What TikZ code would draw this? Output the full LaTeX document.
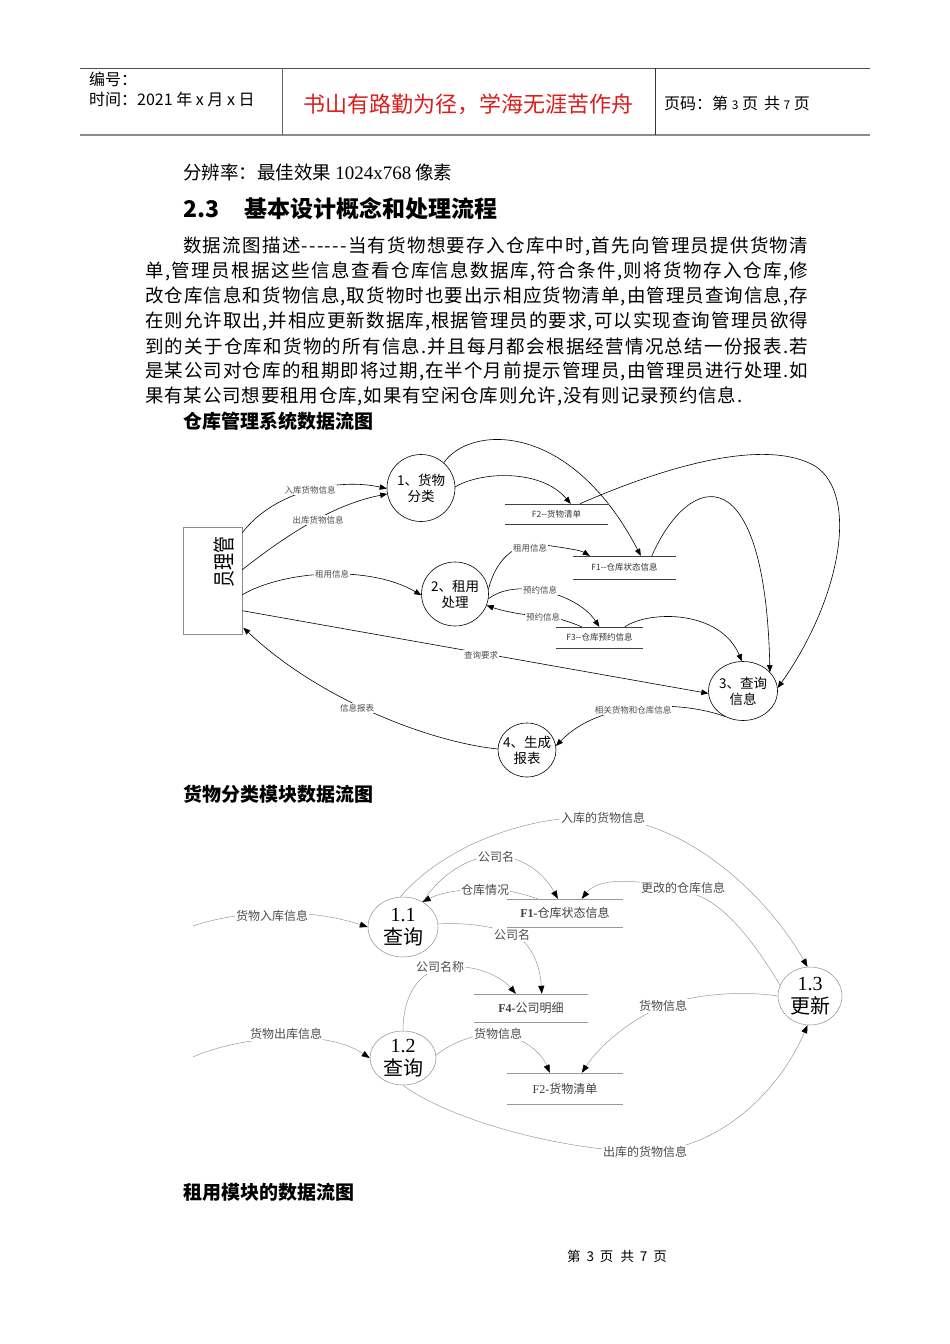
\documentclass[tikz,border=0pt]{standalone}
\usepackage{fontspec}
\usetikzlibrary{arrows.meta,calc,shapes.geometric}
\newfontfamily\cjk{Noto Sans CJK SC}
\newfontfamily\lserif{Liberation Serif}
\definecolor{motto}{RGB}{222,28,28}
\makeatletter
\def\spreadchars#1{\sp@readA#1\@nil}
\def\sp@readA#1{\ifx#1\@nil\else #1\expandafter\sp@readB\fi}
\def\sp@readB#1{\ifx#1\@nil\else\hskip 0pt plus 1fil #1\expandafter\sp@readB\fi}
\makeatother
\newcommand\pline[2]{\hbox to #1{\spreadchars{#2}}}
\tikzset{
  every node/.style={font=\cjk, inner sep=0pt},
  hdtext/.style={anchor=west, font=\cjk\fontsize{16}{18}\selectfont},
  bodytext/.style={anchor=west, font=\cjk\fontsize{18.5}{20}\selectfont},
  headline/.style={anchor=west, font=\cjk\bfseries\fontsize{19}{21}\selectfont},
  proc/.style={ellipse, draw=black, line width=0.6pt, align=center, inner sep=-14pt,
    font=\cjk\fontsize{13.5}{16}\selectfont},
  fl/.style={draw=black, line width=0.6pt, -{Triangle[length=7pt,width=5.5pt]}},
  flbl/.style={font=\cjk\fontsize{8.5}{10}\selectfont, text=black!70, fill=white, inner sep=1pt},
  storelbl/.style={font=\cjk\fontsize{8.5}{10}\selectfont, text=black!80},
  storeline/.style={draw=black!75, line width=0.6pt},
  proctwo/.style={ellipse, draw=black!45, line width=0.5pt, align=center, inner sep=-16pt,
    font=\cjk\fontsize{20}{23}\selectfont},
  fltwo/.style={draw=black!40, line width=0.5pt, -{Triangle[length=8pt,width=6pt,color=black]}},
  flbltwo/.style={font=\cjk\fontsize{12}{14}\selectfont, text=black!70, fill=white, inner sep=1pt},
  storelbltwo/.style={font=\cjk\fontsize{12}{14}\selectfont, text=black!75},
  storelinetwo/.style={draw=black!40, line width=0.5pt},
}
\begin{document}
\begin{tikzpicture}[x=1pt,y=-1pt]
\useasboundingbox[fill=white] (0,0) rectangle (950,1344);

% ---------- header ----------
\draw[black!70, line width=0.8pt] (80,68) -- (870,68);
\draw[black!45, line width=2pt] (80,135) -- (870,135);
\draw[black!60, line width=0.8pt] (282,68) -- (282,135);
\draw[black!80, line width=0.8pt] (655,68) -- (655,135);
\node[hdtext] (bh) at (89,79) {编号：};
\node[hdtext] (tm) at (89,99) {时间：2021 年 x 月 x 日};
\node[font=\cjk\fontsize{22}{25}\selectfont, text=motto] (motto) at (468,104) {书山有路勤为径，学海无涯苦作舟};
\node[hdtext] (pg) at (664,103) {页码：第 {\fontsize{12}{13}\selectfont 3} 页\hspace{6pt}共 {\fontsize{12}{13}\selectfont 7} 页};

% ---------- body text ----------
\node[bodytext] (res) at (183,172) {分辨率：最佳效果 {\lserif\fontsize{19}{20}\selectfont 1024x768} 像素};
\node[anchor=west, font=\cjk\bfseries\fontsize{23}{25}\selectfont] (sec) at (183,209) {2.3\hspace{25pt}基本设计概念和处理流程};
\node[bodytext] (p1) at (183,246) {\pline{625pt}{数据流图描述------当有货物想要存入仓库中时,首先向管理员提供货物清}};
\node[bodytext] (p2) at (145,271) {\pline{663pt}{单,管理员根据这些信息查看仓库信息数据库,符合条件,则将货物存入仓库,修}};
\node[bodytext] (p3) at (145,296) {\pline{663pt}{改仓库信息和货物信息,取货物时也要出示相应货物清单,由管理员查询信息,存}};
\node[bodytext] (p4) at (145,321) {\pline{663pt}{在则允许取出,并相应更新数据库,根据管理员的要求,可以实现查询管理员欲得}};
\node[bodytext] (p5) at (145,346) {\pline{663pt}{到的关于仓库和货物的所有信息.并且每月都会根据经营情况总结一份报表.若}};
\node[bodytext] (p6) at (145,371) {\pline{663pt}{是某公司对仓库的租期即将过期,在半个月前提示管理员,由管理员进行处理.如}};
\node[bodytext] (p7) at (145,396) {\pline{597pt}{果有某公司想要租用仓库,如果有空闲仓库则允许,没有则记录预约信息.}};
\node[headline] (t1) at (183,421) {仓库管理系统数据流图};

% ---------- diagram 1 ----------
\node[draw=black!45, line width=0.6pt, minimum width=59pt, minimum height=107pt] (mgr) at (212.5,580.5) {};
\node[rotate=90, font=\cjk\fontsize{17}{18}\selectfont] (mgrtxt) at (224,562) {\scalebox{1}[1.3]{员理管}};
\node[proc, minimum width=68pt, minimum height=67pt] (c1) at (421,488) {1、货物\\分类};
\node[proc, minimum width=67pt, minimum height=64pt] (c2) at (455,594) {2、租用\\处理};
\node[proc, minimum width=69pt, minimum height=59pt] (c3) at (743,691) {3、查询\\信息};
\node[proc, minimum width=58pt, minimum height=54pt] (c4) at (527,750) {4、生成\\报表};

\node[storelbl, minimum width=102pt, minimum height=20pt] (f2) at (556.5,514) {F2--货物清单};
\node[storelbl, minimum width=103pt, minimum height=23pt] (f1) at (624.5,567.5) {F1--仓库状态信息};
\node[storelbl, minimum width=86pt, minimum height=21pt] (f3) at (599.5,637.5) {F3--仓库预约信息};
\foreach \s in {f1,f2,f3}{
  \draw[storeline] (\s.north west) -- (\s.north east) (\s.south west) -- (\s.south east);
}

\coordinate (m1) at ($(mgr.north east)+(0,6)$);
\coordinate (m2) at ($(mgr.north east)+(0,43)$);
\coordinate (m3) at ($(mgr.north east)+(0,68)$);
\coordinate (m4) at ($(mgr.north east)+(0,84)$);
\coordinate (m5) at ($(mgr.north east)+(1,101)$);
\coordinate (f1a) at ($(f1.north west)+(68,0)$);
\coordinate (f1b) at ($(f1.north west)+(79,0)$);
\coordinate (f1c) at ($(f1.north west)+(17,0)$);
\coordinate (f2a) at ($(f2.north west)+(65.5,0)$);
\coordinate (f2b) at ($(f2.north west)+(74.5,0)$);
\coordinate (f3a) at ($(f3.north west)+(43,0)$);
\coordinate (f3b) at ($(f3.north west)+(25.5,0)$);
\coordinate (f3c) at ($(f3.north west)+(68.5,0)$);

\draw[fl] (m1) .. controls (275,490) and (340,478) .. (c1.181);
\draw[fl] (m2) .. controls (280,540) and (330,505) .. (c1.190);
\draw[fl] (m3) .. controls (285,570) and (370,565) .. (c2.182);
\draw[fl] (m4) -- (c3.184);
\draw[fl] (c4.178) .. controls (430,742) and (320,700) .. (m5);
\draw[fl] (c3.235) .. controls (680,700) and (600,700) .. (c4.8);
\draw[fl] (c1.48) .. controls (470,425) and (570,420) .. (f1a);
\draw[fl] (c1.2) .. controls (480,472) and (540,468) .. (f2a);
\draw[fl] (f2b) .. controls (680,460) and (770,440) .. (815,466) .. controls (860,495) and (840,600) .. (c3.5);
\draw[fl] (f1b) .. controls (690,470) and (765,455) .. (c3.35);
\draw[fl] (f3c) .. controls (650,610) and (720,610) .. (c3.92);
\draw[fl] (c2.8) .. controls (497,555) and (520,540) .. (545,545) .. controls (565,548) and (580,550) .. (f1c);
\draw[fl] (c2.-8) .. controls (500,590) and (515,588) .. (530,589) .. controls (560,592) and (585,605) .. (f3a);
\draw[fl] (f3b) .. controls (565,620) and (555,617) .. (540,616) .. controls (520,615) and (500,610) .. (c2.-20);

\node[flbl] (l1) at (310,490) {入库货物信息};
\node[flbl] (l2) at (318,520) {出库货物信息};
\node[flbl] (l3) at (332,574) {租用信息};
\node[flbl] (l4) at (481,655) {查询要求};
\node[flbl] (l5) at (357,708) {信息报表};
\node[flbl] (l6) at (633,710) {相关货物和仓库信息};
\node[flbl] (l7) at (530,548) {租用信息};
\node[flbl] (l8) at (540,590) {预约信息};
\node[flbl] (l9) at (543,617) {预约信息};

% ---------- diagram 2 ----------
\node[headline] (t2) at (183,794) {货物分类模块数据流图};

\node[proctwo, minimum width=70pt, minimum height=60pt] (d11) at (403,927) {{\lserif 1.1}\\查询};
\node[proctwo, minimum width=66pt, minimum height=54pt] (d12) at (403,1058) {{\lserif 1.2}\\查询};
\node[proctwo, minimum width=64pt, minimum height=58pt] (d13) at (810,996) {{\lserif 1.3}\\更新};

\node[storelbltwo, minimum width=116pt, minimum height=28pt] (s1) at (565,913) {{\lserif\bfseries F1-}仓库状态信息};
\node[storelbltwo, minimum width=114pt, minimum height=28pt] (s4) at (531,1008) {{\lserif\bfseries F4-}公司明细};
\node[storelbltwo, minimum width=116pt, minimum height=31pt] (s2) at (565,1088.5) {{\lserif F2-}货物清单};
\foreach \s in {s1,s4,s2}{
  \draw[storelinetwo] (\s.north west) -- (\s.north east) (\s.south west) -- (\s.south east);
}

\coordinate (in1) at (193,926);
\coordinate (in2) at (193,1057);
\coordinate (s1a) at ($(s1.north west)+(51,0)$);
\coordinate (s1b) at ($(s1.north west)+(31,0)$);
\coordinate (s1c) at ($(s1.north west)+(75,0)$);
\coordinate (s4a) at ($(s4.north west)+(68,0)$);
\coordinate (s4b) at ($(s4.north west)+(42,0)$);
\coordinate (s2a) at ($(s2.north west)+(43,0)$);
\coordinate (s2b) at ($(s2.north west)+(75,0)$);

\draw[fltwo] (in1) .. controls (230,913) and (300,905) .. (d11.180);
\draw[fltwo] (d11.95) .. controls (440,850) and (520,815) .. (600,817) .. controls (690,820) and (770,900) .. (d13.95);
\draw[fltwo] (d11.52) .. controls (440,875) and (470,855) .. (497,856) .. controls (525,857) and (545,875) .. (s1a);
\draw[fltwo] (s1b) .. controls (520,893) and (505,889) .. (485,889) .. controls (460,889) and (440,893) .. (d11.52);
\draw[fltwo] (d13.160) .. controls (750,935) and (720,900) .. (690,893) .. controls (650,880) and (600,875) .. (s1c);
\draw[fltwo] (d11.5) .. controls (470,922) and (500,928) .. (515,935) .. controls (532,945) and (540,965) .. (s4a);
\draw[fltwo] (d12.90) .. controls (403,1000) and (415,975) .. (440,968) .. controls (470,962) and (500,975) .. (s4b);
\draw[fltwo] (in2) .. controls (230,1040) and (320,1025) .. (d12.180);
\draw[fltwo] (d12.5) .. controls (455,1040) and (480,1033) .. (498,1034) .. controls (520,1036) and (540,1050) .. (s2a);
\draw[fltwo] (d13.180) .. controls (740,990) and (690,995) .. (663,1006) .. controls (630,1020) and (600,1045) .. (s2b);
\draw[fltwo] (d12.270) .. controls (450,1120) and (560,1150) .. (645,1152) .. controls (720,1150) and (780,1090) .. (d13.265);

\node[flbltwo] (k1) at (272,916) {货物入库信息};
\node[flbltwo] (k2) at (603,818) {入库的货物信息};
\node[flbltwo] (k3) at (496,857) {公司名};
\node[flbltwo] (k4) at (485,890) {仓库情况};
\node[flbltwo] (k5) at (683,888) {更改的仓库信息};
\node[flbltwo] (k6) at (512,935) {公司名};
\node[flbltwo] (k7) at (440,967) {公司名称};
\node[flbltwo] (k8) at (286,1034) {货物出库信息};
\node[flbltwo] (k9) at (498,1034) {货物信息};
\node[flbltwo] (k10) at (663,1006) {货物信息};
\node[flbltwo] (k11) at (645,1152) {出库的货物信息};

% ---------- bottom ----------
\node[headline] (t3) at (183,1192) {租用模块的数据流图};
\node[font=\cjk\fontsize{13.5}{15}\selectfont] (ft) at (617,1256) {第\hspace{6pt}3\hspace{6pt}页\hspace{7pt}共\hspace{6pt}7\hspace{6pt}页};
\end{tikzpicture}
\end{document}
